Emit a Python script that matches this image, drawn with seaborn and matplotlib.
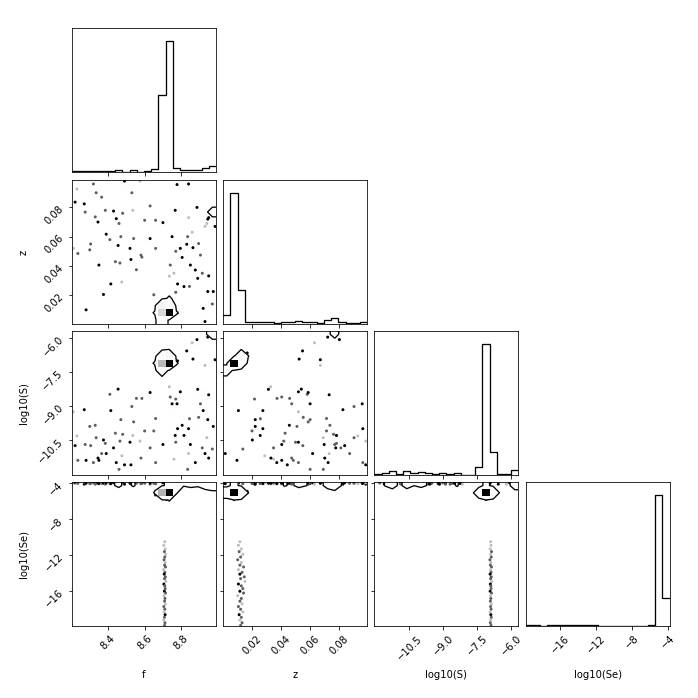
import numpy as np
import matplotlib
matplotlib.use("Agg")
import matplotlib.pyplot as plt
from matplotlib.colors import LinearSegmentedColormap
import seaborn as sns

# Parameter names and plotted ranges
labels = ["f", "z", "log10(S)", "log10(Se)"]
ranges = [(8.203, 8.99), (0.0006, 0.099), (-12.04, -5.67), (-19.86, -3.86)]
ticks = [[8.4, 8.6, 8.8], [0.02, 0.04, 0.06, 0.08],
         [-10.5, -9.0, -7.5, -6.0], [-16, -12, -8, -4]]
contour_frac = 0.015  # contour drawn at this fraction of the 2D peak

# Main posterior peak (weighted sample groups)
peak_f = [8.74, 8.70, 8.74, 8.70, 8.70, 8.74, 8.72, 8.72, 8.66, 8.78]
peak_z = [0.008, 0.008, 0.012, 0.012, 0.003, 0.008, 0.008, 0.017, 0.008, 0.008]
peak_logS = [-7.1, -7.1, -6.8, -7.0, -7.4, -7.1, -7.1, -6.65, -7.2, -7.0]
peak_logSe = [-5.1, -5.1, -5.0, -5.0, -5.0, -4.4, -5.8, -4.9, -5.3, -4.9]
peak_n = [620, 260, 100, 80, 60, 22, 13, 14, 13, 13]

# Secondary clump in the upper corner
clump_f = [8.985, 8.965, 8.945]
clump_z = [0.079, 0.076, 0.072]
clump_logS = [-5.76, -5.85, -5.95]
clump_logSe = [-3.98, -4.02, -4.05]
clump_n = [20, 10, 5]

# Tail of low log10(Se) samples
streak_f = [8.71, 8.705, 8.712, 8.708, 8.715, 8.71, 8.706, 8.712, 8.709, 8.714, 8.704,
            8.711, 8.707, 8.713, 8.709, 8.716, 8.705, 8.71, 8.712, 8.708, 8.714,
            8.706, 8.711, 8.709, 8.713, 8.705, 8.71, 8.707, 8.712, 8.708, 8.704,
            8.711, 8.709]
streak_z = [0.012, 0.011, 0.013, 0.0115, 0.014, 0.0125, 0.0105, 0.013, 0.012, 0.0145,
            0.011, 0.0135, 0.012, 0.015, 0.0125, 0.0155, 0.011, 0.013, 0.014, 0.012,
            0.0145, 0.0105, 0.013, 0.012, 0.0135, 0.011, 0.0125, 0.014, 0.0115, 0.013,
            0.012, 0.0135, 0.0125]
streak_logS = [-6.9, -6.88, -6.92, -6.86, -6.9, -6.87, -6.93, -6.89, -6.91, -6.86,
               -6.9, -6.88, -6.92, -6.87, -6.9, -6.85, -6.91, -6.89, -6.88, -6.92,
               -6.86, -6.9, -6.89, -6.91, -6.87, -6.9, -6.88, -6.92, -6.89, -6.87,
               -6.9, -6.91, -6.88]
streak_logSe = [-10.5, -10.9, -11.3, -11.6, -11.9, -12.2, -12.5, -12.8, -13.1, -13.3,
                -13.6, -13.9, -14.1, -14.4, -14.6, -14.9, -15.2, -15.4, -15.7, -16.0,
                -16.2, -16.5, -16.8, -17.1, -17.4, -17.7, -18.0, -18.3, -18.6, -18.9,
                -19.2, -19.5, -19.8]
streak_n = [1, 1, 1, 2, 1, 2, 2, 1, 2, 2, 1, 2, 3, 2, 2, 1, 3, 2, 2, 3,
            2, 1, 2, 2, 1, 2, 2, 1, 3, 2, 1, 2, 2]

# Scattered samples across the prior (log10(Se) near its upper bound)
out_f = [8.21, 8.22, 8.23, 8.235, 8.27, 8.275, 8.28, 8.30, 8.305, 8.32,
         8.33, 8.335, 8.345, 8.35, 8.365, 8.375, 8.385, 8.39, 8.41, 8.415,
         8.43, 8.44, 8.445, 8.455, 8.46, 8.465, 8.47, 8.475, 8.48, 8.49,
         8.52, 8.525, 8.53, 8.535, 8.54, 8.555, 8.575, 8.58, 8.585, 8.60,
         8.63, 8.63, 8.65, 8.66, 8.66, 8.70, 8.735, 8.74, 8.75, 8.76,
         8.767, 8.77, 8.77, 8.777, 8.78, 8.795, 8.805, 8.815, 8.83, 8.835,
         8.84, 8.84, 8.845, 8.85, 8.86, 8.864, 8.877, 8.886, 8.89, 8.895,
         8.905, 8.915, 8.92, 8.93, 8.93, 8.94, 8.945, 8.95, 8.95, 8.97,
         8.975, 8.985]
out_z = [0.052, 0.0836, 0.0926, 0.0485, 0.0824, 0.0768, 0.010, 0.051, 0.055, 0.096,
         0.0735, 0.090, 0.070, 0.0406, 0.087, 0.0205, 0.078, 0.0617, 0.058, 0.0277,
         0.0775, 0.0429, 0.0723, 0.054, 0.069, 0.042, 0.060, 0.029, 0.076, 0.098,
         0.052, 0.0444, 0.090, 0.078, 0.0587, 0.0374, 0.098, 0.0474, 0.046, 0.0712,
         0.081, 0.0587, 0.0203, 0.0712, 0.052, 0.0696, 0.033, 0.0406, 0.060, 0.035,
         0.078, 0.050, 0.022, 0.0956, 0.0277, 0.052, 0.0458, 0.0259, 0.0548, 0.060,
         0.096, 0.073, 0.026, 0.0406, 0.063, 0.0525, 0.0372, 0.080, 0.0315, 0.0553,
         0.0474, 0.035, 0.011, 0.002, 0.067, 0.069, 0.0225, 0.073, 0.0332, 0.014,
         0.0225, 0.067]
out_logS = [-9.25, -10.75, -10.32, -11.4, -9.16, -10.7, -11.4, -9.9, -10.75, -11.5,
            -9.85, -10.4, -11.3, -11.4, -11.1, -10.5, -10.65, -11.1, -8.48, -9.2,
            -10.85, -10.2, -11.5, -8.25, -11.8, -10.55, -9.6, -11.2, -10.25, -11.6,
            -10.6, -11.6, -9.02, -10.3, -9.7, -8.66, -10.55, -11.3, -8.66, -10.1,
            -10.85, -8.4, -10.1, -9.55, -11.5, -10.7, -8.15, -8.6, -8.9, -11.35,
            -10.3, -10.6, -8.69, -8.9, -10.0, -8.37, -9.85, -10.3, -6.56, -11.8,
            -10.0, -11.1, -9.56, -10.7, -6.2, -6.92, -11.5, -6.06, -8.26, -9.5,
            -8.9, -10.85, -9.2, -11.1, -7.2, -10.4, -9.6, -8.5, -11.3, -10.9,
            -9.9, -6.95]
out_logSe = [-4.0, -3.95, -4.05, -4.0, -4.1, -3.95, -4.0, -4.05, -4.0, -3.95,
             -4.1, -4.0, -3.95, -4.05, -4.0, -4.0, -4.1, -3.95, -4.0, -4.05,
             -3.95, -4.0, -4.1, -4.0, -3.95, -4.05, -4.0, -4.0, -3.95, -4.1,
             -4.0, -4.05, -3.95, -4.0, -4.1, -4.0, -3.95, -4.05, -4.0, -4.0,
             -4.1, -3.95, -4.0, -4.05, -4.0, -3.95, -4.1, -4.0, -4.0, -4.05,
             -3.95, -4.0, -4.1, -4.0, -3.95, -4.05, -4.0, -4.0, -4.1, -3.95,
             -4.0, -4.05, -4.0, -3.95, -4.1, -4.0, -4.05, -3.95, -4.0, -4.0,
             -4.1, -3.95, -4.0, -4.05, -4.0, -3.95, -4.1, -4.0, -4.0, -4.05,
             -3.95, -4.0]
out_n = [1, 3, 1, 2, 3, 2, 3, 2, 2, 2,
         2, 2, 3, 3, 2, 3, 2, 3, 2, 3,
         3, 2, 3, 3, 2, 2, 2, 1, 2, 3,
         3, 3, 2, 1, 2, 2, 1, 2, 2, 2,
         2, 3, 2, 2, 2, 3, 1, 2, 3, 1,
         3, 2, 2, 3, 3, 3, 3, 3, 3, 2,
         3, 1, 2, 3, 1, 3, 3, 3, 3, 2,
         2, 2, 3, 3, 1, 1, 3, 3, 3, 2,
         3, 3]

# Stack the groups into one weighted sample set
samples = [
    np.array(peak_f + clump_f + streak_f + out_f),
    np.array(peak_z + clump_z + streak_z + out_z),
    np.array(peak_logS + clump_logS + streak_logS + out_logS),
    np.array(peak_logSe + clump_logSe + streak_logSe + out_logSe),
]
weights = np.array(peak_n + clump_n + streak_n + out_n, dtype=float)
K = len(samples)

dens_cmap = LinearSegmentedColormap.from_list("dens", [(1, 1, 1, 0), (0, 0, 0, 1)])
pts_cmap = LinearSegmentedColormap.from_list("pts", ["#bdbdbd", "#000000"])


def padded_grid(H, X, Y):
    X1 = 0.5 * (X[1:] + X[:-1])
    Y1 = 0.5 * (Y[1:] + Y[:-1])
    H2 = H.min() + np.zeros((H.shape[0] + 4, H.shape[1] + 4))
    H2[2:-2, 2:-2] = H
    H2[2:-2, 1] = H[:, 0]
    H2[2:-2, -2] = H[:, -1]
    H2[1, 2:-2] = H[0]
    H2[-2, 2:-2] = H[-1]
    H2[1, 1] = H[0, 0]
    H2[1, -2] = H[0, -1]
    H2[-2, 1] = H[-1, 0]
    H2[-2, -2] = H[-1, -1]
    X2 = np.concatenate([X1[0] + np.array([-2, -1]) * np.diff(X1[:2]), X1,
                         X1[-1] + np.array([1, 2]) * np.diff(X1[-2:])])
    Y2 = np.concatenate([Y1[0] + np.array([-2, -1]) * np.diff(Y1[:2]), Y1,
                         Y1[-1] + np.array([1, 2]) * np.diff(Y1[-2:])])
    return X2, Y2, H2


fig, axes = plt.subplots(K, K, figsize=(9.7, 9.7), dpi=72)
lb = 1.0 / 9.7
tr = 9.3 / 9.7
fig.subplots_adjust(left=lb, bottom=lb, right=tr, top=tr, wspace=0.05, hspace=0.05)

for i in range(K):
    for j in range(K):
        ax = axes[i, j]
        if j > i:
            ax.set_frame_on(False)
            ax.set_xticks([])
            ax.set_yticks([])
            continue

        if i == j:
            sns.histplot(x=samples[i], weights=weights, bins=20, binrange=ranges[i],
                         element="step", fill=False, color="k", linewidth=1.3, ax=ax)
            counts, _ = np.histogram(samples[i], bins=20, range=ranges[i], weights=weights)
            ax.set_ylim(0, 1.1 * counts.max())
            ax.set_yticks([])
        else:
            xs, ys = samples[j], samples[i]
            sns.scatterplot(x=xs, y=ys, hue=weights, palette=pts_cmap, hue_norm=(1, 3),
                            marker="o", s=9, linewidth=0, legend=False, ax=ax, zorder=1)
            H, X, Y = np.histogram2d(xs, ys, bins=20, range=[ranges[j], ranges[i]],
                                     weights=weights)
            V = contour_frac * H.max()
            X2, Y2, H2 = padded_grid(H, X, Y)
            ax.contourf(X2, Y2, H2.T, [V, H.max()], colors="white",
                        antialiased=False, zorder=2)
            sns.histplot(x=xs, y=ys, weights=weights, bins=20,
                         binrange=(ranges[j], ranges[i]), cmap=dens_cmap, vmin=0,
                         ax=ax, zorder=3)
            ax.contour(X2, Y2, H2.T, [V], colors="k", linewidths=1.3, zorder=4)
            ax.set_ylim(ranges[i])
            ax.set_yticks(ticks[i])

        ax.set_xlim(ranges[j])
        ax.set_xticks(ticks[j])
        ax.set_xlabel("")
        ax.set_ylabel("")

        if i < K - 1:
            ax.set_xticklabels([])
        else:
            for lab in ax.get_xticklabels():
                lab.set_rotation(45)
            ax.set_xlabel(labels[j])
            ax.xaxis.set_label_coords(0.5, -0.3)

        if i != j:
            if j > 0:
                ax.set_yticklabels([])
            else:
                for lab in ax.get_yticklabels():
                    lab.set_rotation(45)
                ax.set_ylabel(labels[i])
                ax.yaxis.set_label_coords(-0.3, 0.5)

fig.savefig("out.png", dpi=72)
